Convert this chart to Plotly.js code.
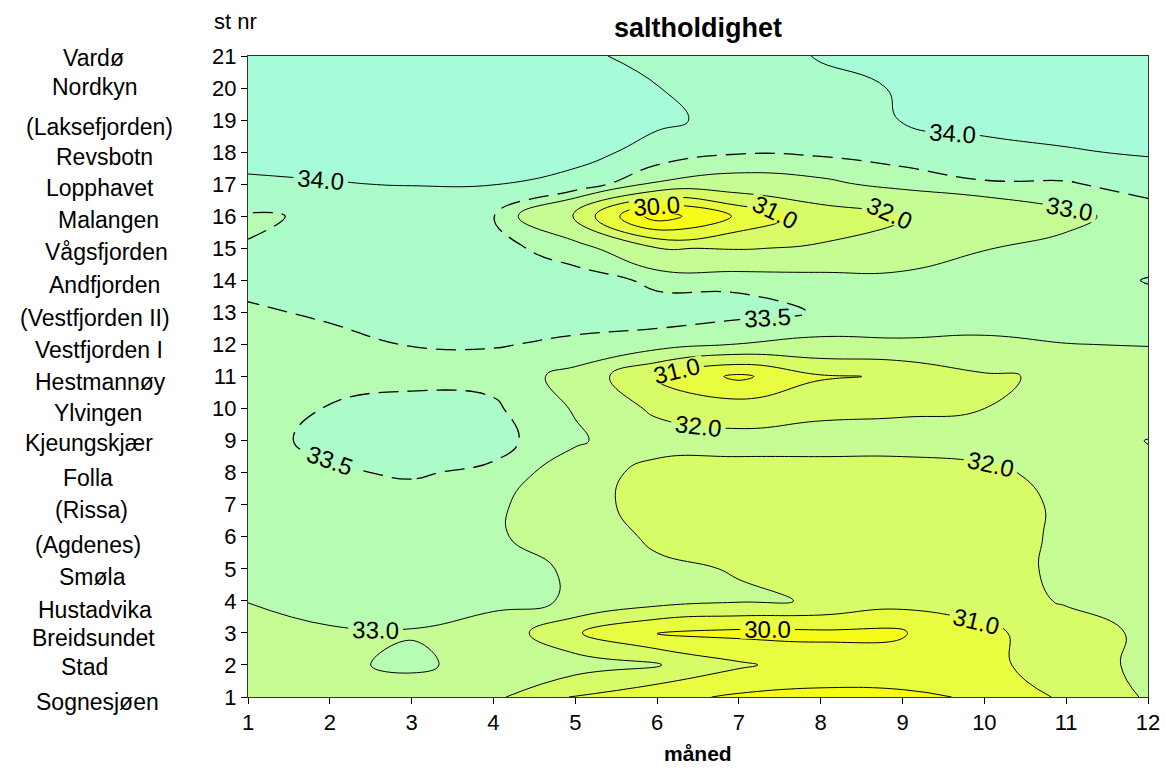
<!DOCTYPE html>
<html>
<head>
<meta charset="utf-8">
<script src="https://cdn.plot.ly/plotly-3.0.1.min.js"></script>
<style>
  html, body { margin: 0; padding: 0; background: #ffffff; }
  #chart { width: 1165px; height: 769px; }
</style>
</head>
<body>
<div id="chart"></div>
<script>
// ---- data ----
const months = [1, 2, 3, 4, 5, 6, 7, 8, 9, 10, 11, 12];
const stations = [1, 2, 3, 4, 5, 6, 7, 8, 9, 10, 11, 12, 13, 14, 15, 16, 17, 18, 19, 20, 21];
const stationNames = ['Sognesjøen', 'Stad', 'Breidsundet', 'Hustadvika', 'Smøla', '(Agdenes)', '(Rissa)',
  'Folla', 'Kjeungskjær', 'Ylvingen', 'Hestmannøy', 'Vestfjorden I', '(Vestfjorden II)', 'Andfjorden',
  'Vågsfjorden', 'Malangen', 'Lopphavet', 'Revsbotn', '(Laksefjorden)', 'Nordkyn', 'Vardø'];

// salinity per station (row), months 1..12
const st01 = [32.80, 32.80, 32.70, 32.20, 30.90, 30.30, 29.85, 29.80, 29.85, 30.10, 31.20, 32.10];
const st02 = [32.85, 32.90, 33.10, 32.80, 32.50, 32.05, 31.15, 30.50, 30.50, 30.70, 31.60, 32.20];
const st03 = [32.85, 32.97, 32.97, 32.70, 31.10, 29.95, 29.75, 29.80, 29.90, 30.80, 31.50, 32.20];
const st04 = [33.01, 33.10, 33.20, 33.15, 32.95, 32.40, 32.10, 31.95, 31.40, 31.50, 32.10, 32.40];
const st05 = [33.15, 33.20, 33.22, 33.15, 32.95, 32.15, 31.95, 31.50, 31.40, 31.60, 32.20, 32.45];
const st06 = [33.20, 33.25, 33.28, 33.12, 32.50, 31.85, 31.40, 31.30, 31.30, 31.50, 32.20, 32.45];
const st07 = [33.25, 33.30, 33.30, 33.15, 32.40, 31.60, 31.50, 31.40, 31.40, 31.60, 32.15, 32.50];
const st08 = [33.30, 33.45, 33.55, 33.40, 32.60, 31.60, 31.70, 31.60, 31.60, 31.80, 32.30, 32.85];
const st09 = [33.40, 33.58, 33.70, 33.68, 33.10, 32.50, 32.30, 32.40, 32.40, 32.45, 32.60, 33.02];
const st10 = [33.35, 33.52, 33.62, 33.58, 32.95, 31.80, 31.50, 31.75, 31.85, 32.00, 32.40, 32.60];
const st11 = [33.25, 33.35, 33.40, 33.35, 32.80, 30.90, 29.80, 30.90, 31.10, 31.88, 32.15, 32.70];
const st12 = [33.30, 33.40, 33.51, 33.52, 33.45, 33.40, 32.98, 32.85, 32.95, 32.92, 32.99, 33.02];
const st13 = [33.45, 33.55, 33.60, 33.62, 33.62, 33.60, 33.65, 33.47, 33.20, 33.20, 33.25, 33.35];
const st14 = [33.60, 33.65, 33.70, 33.70, 33.62, 33.45, 33.40, 33.30, 33.20, 33.25, 33.30, 33.52];
const st15 = [33.52, 33.60, 33.62, 33.60, 33.35, 32.05, 31.95, 32.10, 32.50, 32.98, 33.15, 33.30];
const st16 = [33.45, 33.56, 33.60, 33.52, 31.80, 28.50, 30.15, 31.50, 31.95, 32.30, 32.85, 33.25];
const st17 = [33.93, 33.98, 34.02, 34.01, 33.90, 32.90, 32.70, 32.85, 33.20, 33.45, 33.45, 33.70];
const st18 = [34.15, 34.15, 34.12, 34.10, 34.10, 33.90, 33.55, 33.60, 33.75, 33.85, 33.96, 34.05];
const st19 = [34.20, 34.20, 34.15, 34.10, 34.08, 34.05, 33.92, 33.88, 34.01, 34.15, 34.20, 34.20];
const st20 = [34.20, 34.20, 34.20, 34.15, 34.10, 34.01, 33.85, 33.92, 34.02, 34.20, 34.25, 34.25];
const st21 = [34.20, 34.20, 34.20, 34.15, 34.10, 33.85, 33.85, 34.02, 34.20, 34.25, 34.25, 34.25];

const salinity = [st01, st02, st03, st04, st05, st06, st07, st08, st09, st10, st11,
  st12, st13, st14, st15, st16, st17, st18, st19, st20, st21];

// ---- style ----
const FONT = 'Arial, "Liberation Sans", sans-serif';
const bandBreaks = [29, 30, 31, 32, 33, 33.5, 34];
const bandColors = ['#ffff00', '#f6fc18', '#e8fc40', '#d8fc68', '#c6fc94', '#b6fcb2', '#abfcc8', '#a6fcd8'];
const fillStart = 29, fillEnd = 34, fillSize = 0.5;
const domLo = fillStart - fillSize / 2;
const domHi = fillStart + (Math.floor((fillEnd - fillStart) / fillSize) + 0.5) * fillSize;
function pos(v) { return (v - domLo) / (domHi - domLo); }
const colorscale = [[0, bandColors[0]]];
bandBreaks.forEach(function (b, i) {
  colorscale.push([pos(b), bandColors[i]]);
  colorscale.push([pos(b), bandColors[i + 1]]);
});
colorscale.push([1, bandColors[bandColors.length - 1]]);

const labelFont = { family: FONT, size: 24, color: '#000' };

const fillTrace = {
  type: 'contour', x: months, y: stations, z: salinity,
  colorscale: colorscale, showscale: false, hoverinfo: 'skip',
  contours: { coloring: 'fill', start: fillStart, end: fillEnd, size: fillSize, showlines: false },
  line: { width: 0, smoothing: 1.3 }
};
const solidTrace = {
  type: 'contour', x: months, y: stations, z: salinity,
  showscale: false, hoverinfo: 'skip',
  contours: { coloring: 'none', start: 29, end: 34, size: 1, showlabels: true,
    labelfont: labelFont, labelformat: '.1f' },
  line: { color: '#000', width: 1, smoothing: 1.3 }
};
const dashTrace = {
  type: 'contour', x: months, y: stations, z: salinity,
  showscale: false, hoverinfo: 'skip',
  contours: { coloring: 'none', start: 33.5, end: 33.5, size: 1, showlabels: true,
    labelfont: labelFont, labelformat: '.1f' },
  line: { color: '#000', width: 1.3, smoothing: 1.3, dash: '20px,9px' }
};

// plot area in px: x 248..1148, y 56..697
const L = 248, R = 1148, T = 56, B = 697;
function px2x(px) { return (px - L) / (R - L); }
function py2y(py) { return (B - py) / (B - T); }

const nameCenterX = [97, 84, 93, 95, 92, 88, 91, 88, 89, 98, 100, 99, 95, 104, 106, 108, 100, 104, 99, 95, 93];
const nameCenterY = [702, 667, 638, 610, 577, 545, 510, 478, 443, 413, 382, 350, 318, 285, 252, 220, 188, 157, 127, 87, 58];

const annotations = stationNames.map(function (n, i) {
  return { text: n, xref: 'paper', yref: 'paper', x: px2x(nameCenterX[i]), y: py2y(nameCenterY[i]),
    xanchor: 'center', yanchor: 'middle', showarrow: false, font: { family: FONT, size: 23, color: '#000' } };
});
annotations.push({ text: 'st nr', xref: 'paper', yref: 'paper', x: px2x(235), y: py2y(21),
  xanchor: 'center', yanchor: 'middle', showarrow: false, font: { family: FONT, size: 22, color: '#000' } });
annotations.push({ text: '<b>måned</b>', xref: 'paper', yref: 'paper', x: 0.5, y: py2y(767),
  xanchor: 'center', yanchor: 'bottom', showarrow: false, font: { family: FONT, size: 21, color: '#000' } });

const layout = {
  width: 1165, height: 769,
  margin: { l: L, r: 1165 - R, t: T, b: 769 - B, pad: 0 },
  paper_bgcolor: '#ffffff', plot_bgcolor: '#ffffff',
  showlegend: false,
  title: { text: '<b>saltholdighet</b>', x: 0.5, xref: 'paper', y: 1 - 28 / 769, yref: 'container',
    xanchor: 'center', yanchor: 'middle', font: { family: FONT, size: 27, color: '#000' } },
  xaxis: { range: [1, 12], tickmode: 'array', tickvals: months, ticktext: months.map(String),
    ticks: 'outside', ticklen: 6, tickcolor: '#000', showgrid: false, zeroline: false,
    showline: true, linecolor: '#333', linewidth: 1, mirror: true,
    tickfont: { family: FONT, size: 22, color: '#000' } },
  yaxis: { range: [1, 21], tickmode: 'array', tickvals: stations, ticktext: stations.map(String),
    ticks: 'outside', ticklen: 6, tickcolor: '#000', showgrid: false, zeroline: false,
    showline: true, linecolor: '#333', linewidth: 1, mirror: true,
    tickfont: { family: FONT, size: 22, color: '#000' } },
  annotations: annotations
};

Plotly.newPlot('chart', [fillTrace, solidTrace, dashTrace], layout, { displayModeBar: false, staticPlot: true });
</script>
</body>
</html>
